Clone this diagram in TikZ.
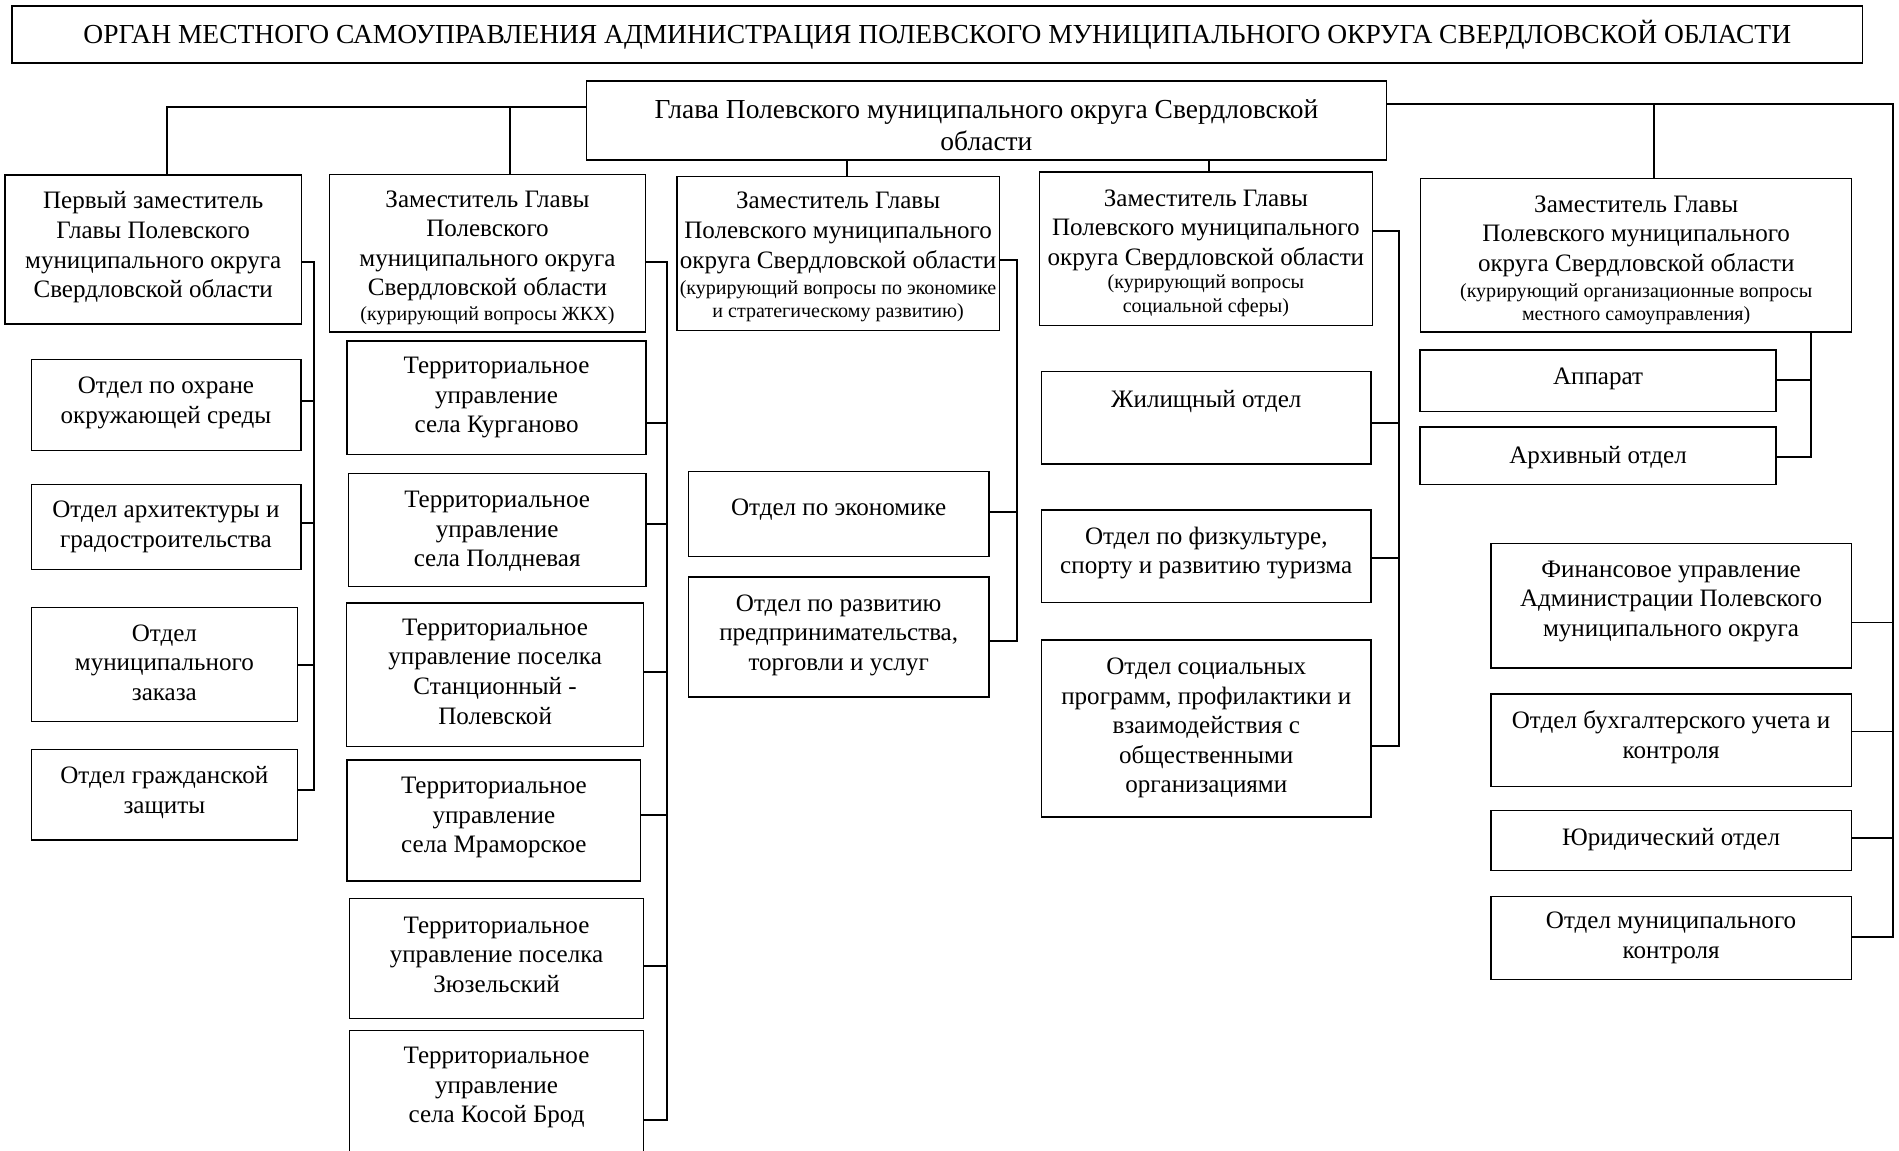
\documentclass[tikz,border=0pt]{standalone}
\usepackage{fontspec}
\setmainfont{Liberation Serif}
\usetikzlibrary{fit}
\tikzset{
  box/.style={draw=black, line width=1.1pt, inner sep=0pt},
  lbl/.style={align=center, inner sep=0pt, yshift=-3pt, font=\fontsize{20.7}{24.4}\selectfont,
    execute at begin node=\strut, execute at end node=\strut},
  sm/.style={align=center, inner sep=0pt, yshift=-3pt, font=\fontsize{16.55}{19.4}\selectfont,
    execute at begin node=\strut, execute at end node=\strut},
  big/.style={align=center, inner sep=0pt, yshift=-3pt, font=\fontsize{22.7}{26.2}\selectfont,
    execute at begin node=\strut, execute at end node=\strut},
  conn/.style={line width=1.6pt, line cap=rect}
}
\begin{document}
\begin{tikzpicture}[x=1pt,y=-1pt]
\useasboundingbox (0,0) rectangle (1568,950);

% ---- boxes ----
\node[box, fit={(10,5)(1538,52)}] (title) {};
\node[box, fit={(484,67)(1145,132)}] (glava) {};
\node[box, fit={(4,144.5)(249,267.5)}] (first) {};
\node[box, fit={(272,144)(533,274)}] (zhkh) {};
\node[box, fit={(559,145.5)(825,273)}] (econ) {};
\node[box, fit={(858.5,142)(1133,268.5)}] (soc) {};
\node[box, fit={(1173,147.5)(1528.5,274)}] (org) {};

\node[box, fit={(26,297)(248.5,372)}] (ohr) {};
\node[box, fit={(26,400)(248.5,470.5)}] (arch) {};
\node[box, fit={(26,501.5)(245.5,596)}] (zak) {};
\node[box, fit={(26,619)(245.5,693.5)}] (gz) {};

\node[box, fit={(286.5,281.5)(533.5,375.5)}] (kur) {};
\node[box, fit={(287.5,391)(533.5,484.5)}] (pold) {};
\node[box, fit={(286,498)(531.5,616.5)}] (stan) {};
\node[box, fit={(286.5,627.5)(529,727.5)}] (mram) {};
\node[box, fit={(288.5,742)(531.5,841)}] (zyuz) {};
\node[box, fit={(288.5,851)(531.5,960)}] (kosoy) {};

\node[box, fit={(568.5,389.5)(816.5,459.5)}] (ekon) {};
\node[box, fit={(568.5,476.5)(816.5,575.5)}] (pred) {};

\node[box, fit={(860,306.5)(1132,383)}] (zhil) {};
\node[box, fit={(860,421)(1132,497.5)}] (fiz) {};
\node[box, fit={(860,528.5)(1132,674.5)}] (socprog) {};

\node[box, fit={(1172.5,289)(1466.5,340)}] (app) {};
\node[box, fit={(1172.5,352.5)(1466.5,400)}] (arhiv) {};
\node[box, fit={(1231,449)(1528.5,551.5)}] (fin) {};
\node[box, fit={(1231,573)(1528.5,649.5)}] (buh) {};
\node[box, fit={(1231,669)(1528.5,718.5)}] (yur) {};
\node[box, fit={(1231,740)(1528.5,809)}] (kontr) {};

% ---- texts ----
\node[big] (title-t) at (774,27.5) {ОРГАН МЕСТНОГО САМОУПРАВЛЕНИЯ АДМИНИСТРАЦИЯ ПОЛЕВСКОГО МУНИЦИПАЛЬНОГО ОКРУГА СВЕРДЛОВСКОЙ ОБЛАСТИ};
\node[big] (glava-t) at (814.5,104) {Глава Полевского муниципального округа Свердловской\\области};

\node[lbl] (first-t) at (126.5,202.7) {Первый заместитель\\Главы Полевского\\муниципального округа\\Свердловской области};
\node[lbl] (zhkh-t) at (402.5,201.5) {Заместитель Главы\\Полевского\\муниципального округа\\Свердловской области};
\node[sm] (zhkh-s) at (402.5,258) {(курирующий вопросы ЖКХ)};
\node[lbl] (econ-t) at (692,190.7) {Заместитель Главы\\Полевского муниципального\\округа Свердловской области};
\node[sm] (econ-s) at (692,247) {(курирующий вопросы по экономике\\и стратегическому развитию)};
\node[lbl] (soc-t) at (995.7,188.6) {Заместитель Главы\\Полевского муниципального\\округа Свердловской области};
\node[sm] (soc-s) at (995.7,242.2) {(курирующий вопросы\\социальной сферы)};
\node[lbl] (org-t) at (1351,193.6) {Заместитель Главы\\Полевского муниципального\\округа Свердловской области};
\node[sm] (org-s) at (1351,249.1) {(курирующий организационные вопросы\\местного самоуправления)};

\node[lbl] (ohr-t) at (137,331) {Отдел по охране\\окружающей среды};
\node[lbl] (arch-t) at (137,433.5) {Отдел архитектуры и\\градостроительства};
\node[lbl] (zak-t) at (135.7,547.6) {Отдел\\муниципального\\заказа};
\node[lbl] (gz-t) at (135.7,652.8) {Отдел гражданской\\защиты};

\node[lbl] (kur-t) at (410,327) {Территориальное\\управление\\села Курганово};
\node[lbl] (pold-t) at (410.5,437.3) {Территориальное\\управление\\села Полдневая};
\node[lbl] (stan-t) at (408.8,555.1) {Территориальное\\управление поселка\\Станционный -\\Полевской};
\node[lbl] (mram-t) at (407.8,673.6) {Территориальное\\управление\\села Мраморское};
\node[lbl] (zyuz-t) at (410,788.7) {Территориальное\\управление поселка\\Зюзельский};
\node[lbl] (kosoy-t) at (410,896.6) {Территориальное\\управление\\села Косой Брод};

\node[lbl] (ekon-t) at (692.5,418) {Отдел по экономике};
\node[lbl] (pred-t) at (692.5,523) {Отдел по развитию\\предпринимательства,\\торговли и услуг};

\node[lbl] (zhil-t) at (996,329) {Жилищный отдел};
\node[lbl] (fiz-t) at (996,455) {Отдел по физкультуре,\\спорту и развитию туризма};
\node[lbl] (socprog-t) at (996,599.5) {Отдел социальных\\программ, профилактики и\\взаимодействия с\\общественными\\организациями};

\node[lbl] (app-t) at (1319.5,309.5) {Аппарат};
\node[lbl] (arhiv-t) at (1319.5,374.5) {Архивный отдел};
\node[lbl] (fin-t) at (1379.8,494.8) {Финансовое управление\\Администрации Полевского\\муниципального округа};
\node[lbl] (buh-t) at (1379.8,607) {Отдел бухгалтерского учета и\\контроля};
\node[lbl] (yur-t) at (1379.8,690) {Юридический отдел};
\node[lbl] (kontr-t) at (1379.8,773) {Отдел муниципального\\контроля};

% ---- junction coordinates ----
\coordinate (jL) at (137.6,88.6);
\coordinate (j2) at (420.9,88.6);
\coordinate (g3) at (699,132);
\coordinate (g4) at (998.5,132);
\coordinate (jR) at (1563,86.2);
\coordinate (jO) at (1365.8,86.2);
\coordinate (c1) at (259,216);
\coordinate (c2) at (551,216);
\coordinate (c3) at (840,214.7);
\coordinate (c4) at (1155.5,190.7);
\coordinate (c5) at (1495,274);

% ---- connectors from Глава ----
\draw[conn] (glava.west |- jL) -- (jL) -- (jL |- first.north);
\draw[conn] (j2) -- (j2 |- zhkh.north);
\draw[conn] (g3) -- (g3 |- econ.north);
\draw[conn] (g4) -- (g4 |- soc.north);
\draw[conn] (glava.east |- jR) -- (jR) -- (1563,774) -- (kontr.east |- 0,774);
\draw[conn] (jO) -- (jO |- org.north);

% ---- column 1 ----
\draw[conn] (first.east |- c1) -- (c1) -- (259,652) -- (gz.east |- 0,652);
\draw[conn] (ohr.east |- 0,331) -- (259,331);
\draw[conn] (arch.east |- 0,432) -- (259,432);
\draw[conn] (zak.east |- 0,549) -- (259,549);

% ---- column 2 ----
\draw[conn] (zhkh.east |- c2) -- (c2) -- (551,925) -- (kosoy.east |- 0,925);
\draw[conn] (kur.east |- 0,349) -- (551,349);
\draw[conn] (pold.east |- 0,433) -- (551,433);
\draw[conn] (stan.east |- 0,554.6) -- (551,554.6);
\draw[conn] (mram.east |- 0,673) -- (551,673);
\draw[conn] (zyuz.east |- 0,798) -- (551,798);

% ---- column 3 ----
\draw[conn] (econ.east |- c3) -- (c3) -- (840,529) -- (pred.east |- 0,529);
\draw[conn] (ekon.east |- 0,423) -- (840,423);

% ---- column 4 ----
\draw[conn] (soc.east |- c4) -- (c4) -- (1155.5,616) -- (socprog.east |- 0,616);
\draw[conn] (zhil.east |- 0,349) -- (1155.5,349);
\draw[conn] (fiz.east |- 0,461) -- (1155.5,461);

% ---- column 5 ----
\draw[conn] (c5) -- (1495,377) -- (arhiv.east |- 0,377);
\draw[conn] (app.east |- 0,314) -- (1495,314);

% ---- right column ----
\draw[conn] (fin.east |- 0,514) -- (1563,514);
\draw[conn] (buh.east |- 0,604) -- (1563,604);
\draw[conn] (yur.east |- 0,692) -- (1563,692);
\end{tikzpicture}
\end{document}
